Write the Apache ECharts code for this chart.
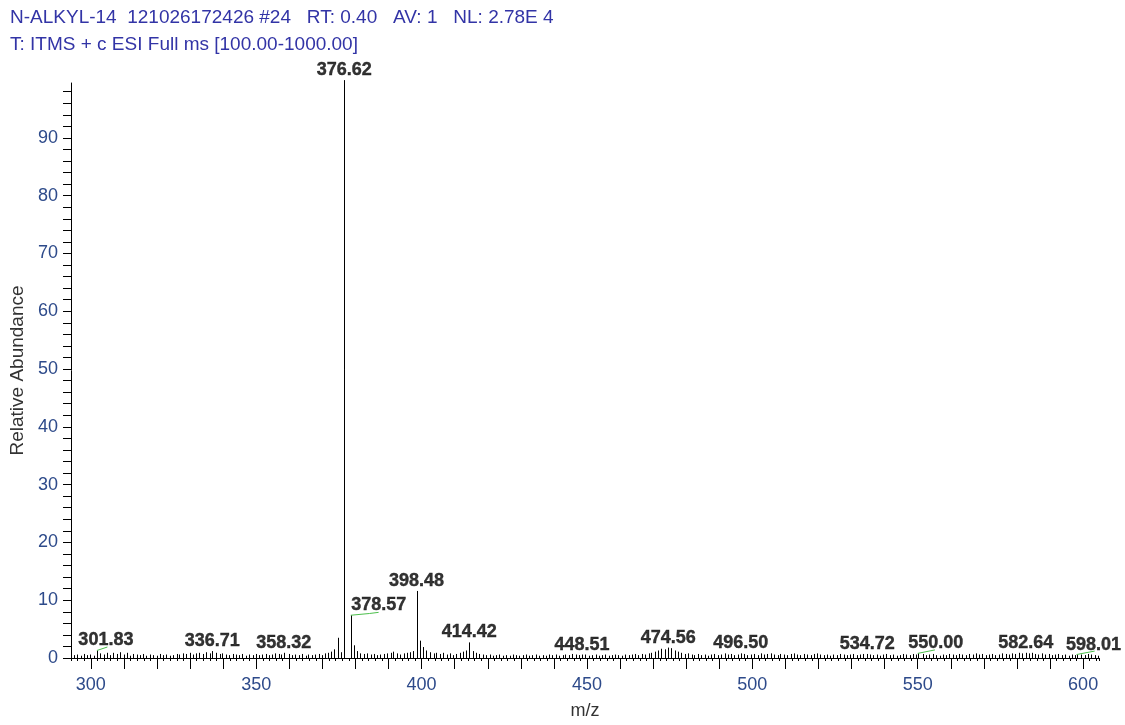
<!DOCTYPE html>
<html>
<head>
<meta charset="utf-8">
<title>N-ALKYL-14</title>
<script src="https://cdn.jsdelivr.net/npm/echarts@6/dist/echarts.min.js"></script>
<style>
  html, body { margin: 0; padding: 0; background: #fff; }
  #myChart { width: 1125px; height: 725px; }
</style>
</head>
<body>
<div id="myChart"></div>
<script>
// header lines of the scan
var headerLines = [
  'N-ALKYL-14  121026172426 #24   RT: 0.40   AV: 1   NL: 2.78E 4',
  'T: ITMS + c ESI Full ms [100.00-1000.00]'
];

// labelled peaks [m/z, relative abundance]
var labelledPeaks = [
  [301.83, 1.3], [336.71, 1.2], [358.32, 0.9], [376.62, 100],
  [378.57, 7.4], [398.48, 11.6], [414.42, 2.7], [448.51, 0.6],
  [474.56, 1.8], [496.50, 0.8], [534.72, 0.7], [550.00, 0.8],
  [582.64, 0.9], [598.01, 0.6]
];

// unlabelled sticks (baseline noise and small isotope peaks)
var noisePeaks = [
  [294.9,0.5],[295.8,0.6],[296.9,0.4],[297.8,0.7],[298.9,0.5],[299.8,0.6],[300.9,0.4],[302.8,0.8],
  [303.9,0.6],[304.8,0.9],[305.9,0.5],[306.8,0.9],[307.9,0.7],[308.8,1.0],[309.9,0.6],[310.8,0.9],
  [311.9,0.4],[312.8,0.7],[313.9,0.6],[314.8,0.5],[315.9,0.7],[316.8,0.4],[317.9,0.6],[318.8,0.5],
  [319.9,0.4],[320.8,0.7],[321.9,0.5],[322.8,0.6],[323.9,0.4],[324.8,0.5],[325.9,0.7],[326.8,0.6],
  [327.9,0.8],[328.8,0.7],[329.9,0.9],[330.8,0.6],[331.9,0.8],[332.8,0.9],[333.9,0.7],[334.8,1.0],
  [335.9,0.8],[337.8,0.9],[338.9,0.7],[339.8,0.8],[340.9,0.6],[341.8,0.5],[342.9,0.7],[343.8,0.6],
  [344.9,0.5],[345.8,0.7],[346.9,0.4],[347.8,0.6],[348.9,0.5],[349.8,0.7],[350.9,0.5],[351.8,0.6],
  [352.9,0.7],[353.8,0.5],[354.9,0.6],[355.8,0.8],[356.9,0.7],[357.5,0.6],[359.8,0.7],[360.9,0.5],
  [361.8,0.6],[362.9,0.5],[363.8,0.7],[364.9,0.4],[365.8,0.6],[366.9,0.5],[367.8,0.6],[368.9,0.7],
  [369.8,0.5],[370.9,0.8],[371.8,0.9],[372.7,1.1],[373.6,1.5],[374.8,3.5],[375.6,1.0],[379.6,2.2],
  [380.5,1.2],[381.5,0.8],[382.6,0.7],[383.5,0.8],[384.6,0.6],[385.5,0.7],[386.6,0.5],[387.5,0.6],
  [388.6,0.7],[389.5,0.8],[390.6,0.9],[391.5,1.1],[392.6,0.8],[393.5,0.6],[394.6,0.8],[395.5,0.9],
  [396.6,1.0],[397.5,1.2],[399.4,3.0],[400.4,1.9],[401.4,1.3],[402.5,1.0],[403.6,0.8],[404.5,0.9],
  [405.6,0.7],[406.5,0.9],[407.6,0.6],[408.5,0.8],[409.6,0.5],[410.5,0.7],[411.6,0.9],[412.5,1.1],
  [413.5,1.3],[415.4,1.2],[416.4,0.9],[417.5,0.7],[418.6,0.6],[419.5,0.5],[420.6,0.6],[421.5,0.4],
  [422.6,0.5],[423.5,0.6],[424.6,0.4],[425.5,0.5],[426.6,0.4],[427.5,0.6],[428.6,0.5],[429.5,0.4],
  [430.6,0.5],[431.5,0.6],[432.6,0.4],[433.5,0.5],[434.6,0.6],[435.5,0.4],[436.6,0.5],[437.5,0.4],
  [438.6,0.6],[439.5,0.5],[440.6,0.6],[441.5,0.4],[442.6,0.5],[443.5,0.6],[444.6,0.5],[445.5,0.7],
  [446.6,0.6],[447.5,0.5],[449.5,0.6],[450.6,0.4],[451.5,0.5],[452.6,0.6],[453.5,0.4],[454.6,0.5],
  [455.5,0.6],[456.6,0.4],[457.5,0.5],[458.6,0.6],[459.5,0.5],[460.6,0.4],[461.5,0.6],[462.6,0.5],
  [463.5,0.6],[464.6,0.7],[465.5,0.5],[466.6,0.7],[467.5,0.6],[468.6,0.8],[469.5,0.9],[470.6,1.1],
  [471.5,1.3],[472.5,1.6],[473.5,1.5],[475.5,1.7],[476.5,1.3],[477.6,1.1],[478.5,0.9],[479.6,0.7],
  [480.5,0.8],[481.6,0.6],[482.5,0.5],[483.6,0.7],[484.5,0.5],[485.6,0.6],[486.5,0.4],[487.6,0.6],
  [488.5,0.7],[489.6,0.5],[490.5,0.6],[491.6,0.8],[492.5,0.6],[493.6,0.7],[494.5,0.5],[495.6,0.6],
  [497.6,0.7],[498.5,0.5],[499.6,0.6],[500.5,0.7],[501.6,0.5],[502.5,0.8],[503.6,0.6],[504.5,0.7],
  [505.6,0.8],[506.5,0.6],[507.6,0.5],[508.5,0.7],[509.6,0.6],[510.5,0.5],[511.6,0.7],[512.5,0.8],
  [513.6,0.6],[514.5,0.5],[515.6,0.7],[516.5,0.6],[517.6,0.5],[518.5,0.7],[519.6,0.8],[520.5,0.6],
  [521.6,0.5],[522.5,0.6],[523.6,0.4],[524.5,0.6],[525.6,0.5],[526.5,0.7],[527.6,0.6],[528.5,0.5],
  [529.6,0.6],[530.5,0.7],[531.6,0.5],[532.5,0.6],[533.6,0.7],[535.6,0.6],[536.5,0.5],[537.6,0.6],
  [538.5,0.4],[539.6,0.6],[540.5,0.7],[541.6,0.5],[542.5,0.6],[543.6,0.4],[544.5,0.5],[545.6,0.7],
  [546.5,0.6],[547.6,0.5],[548.5,0.7],[549.4,0.6],[551.5,0.7],[552.6,0.5],[553.5,0.6],[554.6,0.7],
  [555.5,0.5],[556.6,0.4],[557.5,0.6],[558.6,0.5],[559.5,0.7],[560.6,0.6],[561.5,0.5],[562.6,0.7],
  [563.5,0.6],[564.6,0.5],[565.5,0.7],[566.6,0.6],[567.5,0.8],[568.6,0.6],[569.5,0.7],[570.6,0.5],
  [571.5,0.6],[572.6,0.7],[573.5,0.5],[574.6,0.6],[575.5,0.8],[576.6,0.7],[577.5,0.6],[578.6,0.8],
  [579.5,0.7],[580.6,0.9],[581.5,0.8],[583.6,0.8],[584.5,0.9],[585.6,0.7],[586.5,0.6],[587.6,0.8],
  [588.5,0.6],[589.6,0.7],[590.5,0.5],[591.6,0.6],[592.5,0.7],[593.6,0.5],[594.5,0.6],[595.6,0.4],
  [596.5,0.6],[597.4,0.5],[599.4,0.6],[600.5,0.5],[601.6,0.7],[602.5,0.6],[603.6,0.5],[604.4,0.4]
];

// green label leader lines [m/z, abundance] points
var leaderLines = [
  [[301.83, 1.3], [305.0, 1.9]],
  [[378.57, 7.4], [384.2, 7.7], [387.0, 7.9]],
  [[550.00, 0.8], [555.2, 1.4]],
  [[598.01, 0.6], [603.5, 1.2]]
];

// axis ticks and labels
var xLabelValues = [300, 350, 400, 450, 500, 550, 600];
var xMidTicks = [300, 310, 320, 330, 340, 350, 360, 370, 380, 390, 400, 410, 420, 430, 440, 450,
  460, 470, 480, 490, 500, 510, 520, 530, 540, 550, 560, 570, 580, 590, 600];
var yLabelValues = [0, 10, 20, 30, 40, 50, 60, 70, 80, 90];
var yTickValues = [0, 2, 4, 6, 8, 10, 12, 14, 16, 18, 20, 22, 24, 26, 28, 30, 32, 34, 36, 38, 40,
  42, 44, 46, 48, 50, 52, 54, 56, 58, 60, 62, 64, 66, 68, 70, 72, 74, 76, 78, 80, 82, 84, 86, 88,
  90, 92, 94, 96, 98];

var FONT = '"Liberation Sans", Arial, sans-serif';
var labelShift = { '301.83': 9, '378.57': 28, '550.00': 18, '598.01': 17 }; // label pushed to the right

function renderStick(params, api) {
  var top = api.coord([api.value(0), api.value(1)]);
  var base = api.coord([api.value(0), 0]);
  var x = Math.round(top[0]) + 0.5;
  return {
    type: 'line',
    shape: { x1: x, y1: top[1], x2: x, y2: base[1] },
    style: { stroke: '#000', lineWidth: 1 }
  };
}

var sticks = noisePeaks.concat(labelledPeaks);

var labelData = labelledPeaks.map(function (p) {
  var key = p[0].toFixed(2);
  return { value: p, label: { offset: [labelShift[key] || 0, -1] } };
});

var leaderSeries = leaderLines.map(function (pts) {
  return {
    type: 'line',
    data: pts,
    symbol: 'none',
    silent: true,
    clip: false,
    lineStyle: { color: '#4cbf4c', width: 1 },
    z: 3
  };
});

var myChart = echarts.init(document.getElementById('myChart'));
var option = {
  animation: false,
  backgroundColor: '#fff',
  title: {
    text: headerLines.join('\n'),
    left: 10,
    top: 4,
    padding: 0,
    textStyle: { fontFamily: FONT, fontSize: 19, fontWeight: 'normal', color: '#3234a6', lineHeight: 27 }
  },
  grid: { left: 71, right: 26, top: 83, bottom: 62 },
  xAxis: [
    {
      type: 'value',
      min: 294,
      max: 604.8,
      interval: 2,
      name: 'm/z',
      nameLocation: 'middle',
      nameGap: 44,
      nameTextStyle: { fontFamily: FONT, fontSize: 18, color: '#333' },
      axisLine: { lineStyle: { color: '#000', width: 1 } },
      axisTick: { length: 3, lineStyle: { color: '#000' } },
      axisLabel: {
        customValues: xLabelValues,
        margin: 18,
        fontFamily: FONT, fontSize: 18, color: '#2d4a8a'
      },
      splitLine: { show: false }
    },
    {
      type: 'value',
      min: 294,
      max: 604.8,
      position: 'bottom',
      axisLine: { show: false },
      axisTick: { customValues: xMidTicks, length: 11, lineStyle: { color: '#000' } },
      axisLabel: { show: false },
      splitLine: { show: false }
    }
  ],
  yAxis: {
    type: 'value',
    min: 0,
    max: 99.5,
    interval: 10,
    name: 'Relative Abundance',
    nameLocation: 'middle',
    nameGap: 44,
    nameTextStyle: { fontFamily: FONT, fontSize: 19, color: '#333' },
    axisLine: { show: true, lineStyle: { color: '#000', width: 1 } },
    axisTick: { show: true, customValues: yTickValues, length: 8, lineStyle: { color: '#000' } },
    axisLabel: {
      customValues: yLabelValues,
      margin: 13,
      fontFamily: FONT, fontSize: 18, color: '#2d4a8a'
    },
    splitLine: { show: false }
  },
  series: [
    {
      type: 'custom',
      renderItem: renderStick,
      data: sticks,
      clip: false,
      silent: true,
      z: 2
    },
    {
      type: 'scatter',
      data: labelData,
      symbolSize: 0,
      clip: false,
      silent: true,
      label: {
        show: true,
        position: 'top',
        distance: 0,
        formatter: function (p) { return p.value[0].toFixed(2); },
        fontFamily: FONT,
        fontSize: 18,
        fontWeight: 'bold',
        color: '#000',
        textBorderColor: '#000',
        textBorderWidth: 0.4
      },
      z: 4
    }
  ].concat(leaderSeries)
};
myChart.setOption(option);
window.onresize = myChart.resize;
</script>
</body>
</html>
